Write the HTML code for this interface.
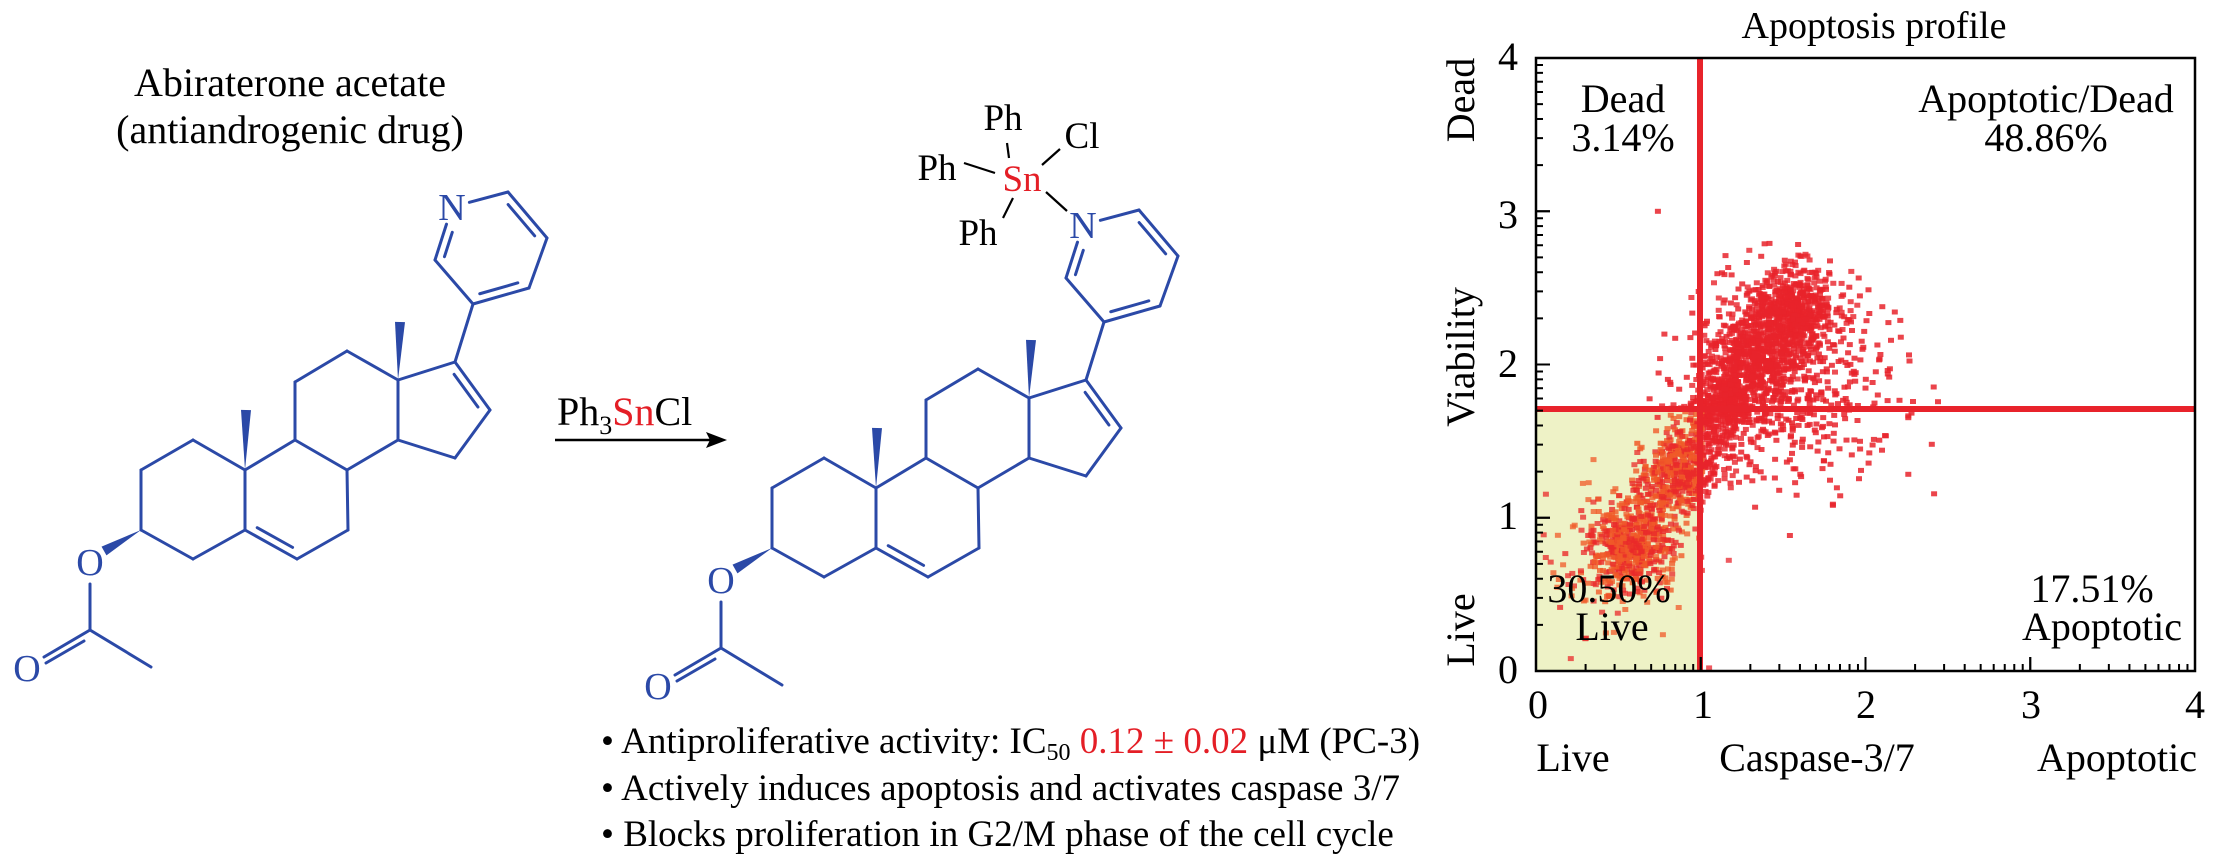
<!DOCTYPE html>
<html><head><meta charset="utf-8"><style>
html,body{margin:0;padding:0;background:#fff;}
svg{display:block;}
text{font-family:"Liberation Serif",serif;}
</style></head><body>
<svg id="s" width="2213" height="867" viewBox="0 0 2213 867" xmlns="http://www.w3.org/2000/svg">
<rect width="2213" height="867" fill="#fff"/>
<text x="290" y="96" font-size="40" text-anchor="middle">Abiraterone acetate</text>
<text x="290" y="143" font-size="40" text-anchor="middle">(antiandrogenic drug)</text>
<g id="molL"></g>
<g id="molM" transform="translate(631,18)"></g>
<g font-size="37">
<text x="1003" y="130" text-anchor="middle">Ph</text>
<text x="1082" y="148" text-anchor="middle">Cl</text>
<text x="937" y="180" text-anchor="middle">Ph</text>
<text x="1022" y="191" text-anchor="middle" fill="#e41e26">Sn</text>
<text x="978" y="245" text-anchor="middle">Ph</text>
</g>
<g stroke="#000" stroke-width="2.2">
<line x1="1007" y1="143" x2="1009" y2="158"/>
<line x1="1042" y1="165" x2="1060" y2="149"/>
<line x1="964" y1="163" x2="995" y2="173"/>
<line x1="1013" y1="198" x2="1003" y2="218"/>
<line x1="1046" y1="192" x2="1067" y2="211"/>
</g>
<text x="557" y="425" font-size="40">Ph<tspan font-size="26" dy="9">3</tspan><tspan dy="-9" fill="#e41e26">Sn</tspan>Cl</text>
<line x1="555" y1="440" x2="712" y2="440" stroke="#000" stroke-width="2.5"/>
<polygon points="727,440 706,432 710,440 706,448" fill="#000"/>
<g font-size="37">
<text x="601" y="753">• Antiproliferative activity: IC<tspan font-size="24" dy="7">50</tspan><tspan dy="-7" fill="#e41e26"> 0.12 ± 0.02</tspan> μM (PC-3)</text>
<text x="601" y="800">• Actively induces apoptosis and activates caspase 3/7</text>
<text x="601" y="846">• Blocks proliferation in G2/M phase of the cell cycle</text>
</g>
<text x="1874" y="38" font-size="38" text-anchor="middle">Apoptosis profile</text>
<rect x="1536" y="409" width="164" height="262" fill="#eef2c6"/>
<g id="dots"></g>
<line x1="1700" y1="58" x2="1700" y2="671" stroke="#e8232b" stroke-width="6"/>
<line x1="1536" y1="409" x2="2195" y2="409" stroke="#e8232b" stroke-width="6"/>
<rect x="1536" y="58" width="659" height="613" fill="none" stroke="#000" stroke-width="2.5"/>
<g id="ticks" stroke="#000" stroke-width="2"></g>
<g font-size="40">
<text x="1623" y="112" text-anchor="middle">Dead</text>
<text x="1623" y="151" text-anchor="middle">3.14%</text>
<text x="2046" y="112" text-anchor="middle">Apoptotic/Dead</text>
<text x="2046" y="151" text-anchor="middle">48.86%</text>
<text x="1609" y="602" text-anchor="middle">30.50%</text>
<text x="1612" y="640" text-anchor="middle">Live</text>
<text x="2092" y="602" text-anchor="middle">17.51%</text>
<text x="2102" y="640" text-anchor="middle">Apoptotic</text>
<text x="1518" y="70" text-anchor="end">4</text>
<text x="1518" y="228" text-anchor="end">3</text>
<text x="1518" y="377" text-anchor="end">2</text>
<text x="1518" y="529" text-anchor="end">1</text>
<text x="1518" y="683" text-anchor="end">0</text>
<text x="1538" y="718" text-anchor="middle">0</text>
<text x="1703" y="718" text-anchor="middle">1</text>
<text x="1866" y="718" text-anchor="middle">2</text>
<text x="2031" y="718" text-anchor="middle">3</text>
<text x="2195" y="718" text-anchor="middle">4</text>
<text x="1573" y="771" text-anchor="middle">Live</text>
<text x="1817" y="771" text-anchor="middle">Caspase-3/7</text>
<text x="2197" y="771" text-anchor="end">Apoptotic</text>
<text transform="translate(1474,100) rotate(-90)" text-anchor="middle">Dead</text>
<text transform="translate(1474,357) rotate(-90)" text-anchor="middle">Viability</text>
<text transform="translate(1474,630) rotate(-90)" text-anchor="middle">Live</text>
</g>
</svg>
<script>
(function(){
const NS="http://www.w3.org/2000/svg";
const BL="#2b49a7";
function el(parent,tag,attrs,txt){const e=document.createElementNS(NS,tag);for(const k in attrs)e.setAttribute(k,attrs[k]);if(txt)e.textContent=txt;parent.appendChild(e);return e;}
function trim(p,q,d){const dx=q[0]-p[0],dy=q[1]-p[1],L=Math.hypot(dx,dy);return [p[0]+dx/L*d,p[1]+dy/L*d];}
function drawMol(g){
 const A={N:[452,207],C6:[508,192],C5:[547,238],C4:[529,288],C3:[473,304],C2:[435,260],
 c17:[455,362],c16:[490,410],c15:[455,458],c14:[398,440],c13:[398,380],c12:[347,351],c11:[295,382],c9:[295,440],c8:[347,470],
 c10:[245,470],c5:[245,530],c6:[297,559],c7:[348,530],c1:[193,440],c2:[141,470],c3:[141,530],c4:[193,559]};
 function ln(p,q){el(g,'line',{x1:p[0],y1:p[1],x2:q[0],y2:q[1],stroke:BL,'stroke-width':3,'stroke-linecap':'round'});}
 function b(a,c,ta,tc){let p=A[a]||a,q=A[c]||c;if(ta)p=trim(p,q,ta);if(tc)q=trim(q,p,tc);ln(p,q);return [p,q];}
 function d(a,c,cen,ta,tc){const [p,q]=b(a,c,ta,tc);const mx=(p[0]+q[0])/2,my=(p[1]+q[1])/2;
  let nx=-(q[1]-p[1]),ny=q[0]-p[0];const L=Math.hypot(nx,ny);nx/=L;ny/=L;
  if(nx*(cen[0]-mx)+ny*(cen[1]-my)<0){nx=-nx;ny=-ny;}
  const o=8,f=0.16;const p2=[p[0]+(q[0]-p[0])*f+nx*o,p[1]+(q[1]-p[1])*f+ny*o],q2=[q[0]-(q[0]-p[0])*f+nx*o,q[1]-(q[1]-p[1])*f+ny*o];ln(p2,q2);}
 const py=[491,248];
 b('N','C6',18,0);d('C6','C5',py);b('C5','C4');d('C4','C3',py);b('C3','C2');d('C2','N',py,0,18);
 b('C3','c17');
 const dr=[440,412];d('c17','c16',dr);b('c16','c15');b('c15','c14');b('c14','c13');b('c13','c17');
 b('c13','c12');b('c12','c11');b('c11','c9');b('c9','c8');b('c8','c14');
 const br=[296,500];b('c9','c10');b('c10','c5');d('c5','c6',br);b('c6','c7');b('c7','c8');
 b('c10','c1');b('c1','c2');b('c2','c3');b('c3','c4');b('c4','c5');
 function wedge(p,q,w){const dx=q[0]-p[0],dy=q[1]-p[1],L=Math.hypot(dx,dy),nx=-dy/L*w,ny=dx/L*w;
  el(g,'polygon',{points:`${p[0]},${p[1]} ${q[0]+nx},${q[1]+ny} ${q[0]-nx},${q[1]-ny}`,fill:BL});}
 wedge(A.c10,[246,410],5);wedge(A.c13,[400,322],5);wedge(A.c3,[104,551],5);
 el(g,'text',{x:452,y:220,'font-size':38,'text-anchor':'middle',fill:BL},'N');
 el(g,'text',{x:90,y:575,'font-size':38,'text-anchor':'middle',fill:BL},'O');
 el(g,'text',{x:27,y:681,'font-size':38,'text-anchor':'middle',fill:BL},'O');
 ln([90,584],[90,630]);ln([90,630],[151,667]);
 ln([90,630],[44,657]);ln([84,641],[46,663]);
}
drawMol(document.getElementById('molL'));
drawMol(document.getElementById('molM'));
const t=document.getElementById('ticks');
const X0=1536,Y0=671,SX=164.75,SY=153.25;
for(let dcd=0;dcd<4;dcd++){
 for(let k=1;k<=10;k++){const v=dcd+Math.log10(k);const len=(k==1||k==10)?14:7;
  const y=Y0-v*SY;el(t,'line',{x1:X0,y1:y,x2:X0+len,y2:y});
  const x=X0+v*SX;el(t,'line',{x1:x,y1:Y0,x2:x,y2:Y0-len});}
}
let seed=12345;function rnd(){seed=(seed*1103515245+12345)%2147483648;return seed/2147483648;}
function gauss(){let u=0,v=0;while(u===0)u=rnd();v=rnd();return Math.sqrt(-2*Math.log(u))*Math.cos(2*Math.PI*v);}
const dg=document.getElementById('dots');
let html='';
function dot(x,y,op){const px=X0+x*SX,py=Y0-y*SY;if(px<X0+2||px>2193||py<60||py>669)return;
 const inY=(px<1700&&py>409);const c=inY?(rnd()<0.5?'#f05a28':'#ea2a2a'):'#e8232b';
 html+=`<rect x="${px.toFixed(1)}" y="${py.toFixed(1)}" width="6" height="5" fill="${c}" opacity="${op}"/>`;}
const ux=0.55,uy=0.835,vx=-0.835,vy=0.55;
const clusters=[[0.55,0.82,0.16,0.12,500],[0.85,1.3,0.15,0.11,450],[1.12,1.72,0.15,0.12,450],[1.3,2.05,0.15,0.14,450],[1.52,2.35,0.15,0.13,600]];
for(const c of clusters){for(let i=0;i<c[4];i++){const a=gauss()*c[2],b=gauss()*c[3];dot(c[0]+a*ux+b*vx,c[1]+a*uy+b*vy,0.8);}}
for(let i=0;i<550;i++){dot(1.5+gauss()*0.33,1.9+gauss()*0.35,0.85);}
for(let i=0;i<150;i++){dot(0.5+gauss()*0.25,0.8+gauss()*0.3,0.75);}
dg.innerHTML=html;
})();
</script>
</body></html>
